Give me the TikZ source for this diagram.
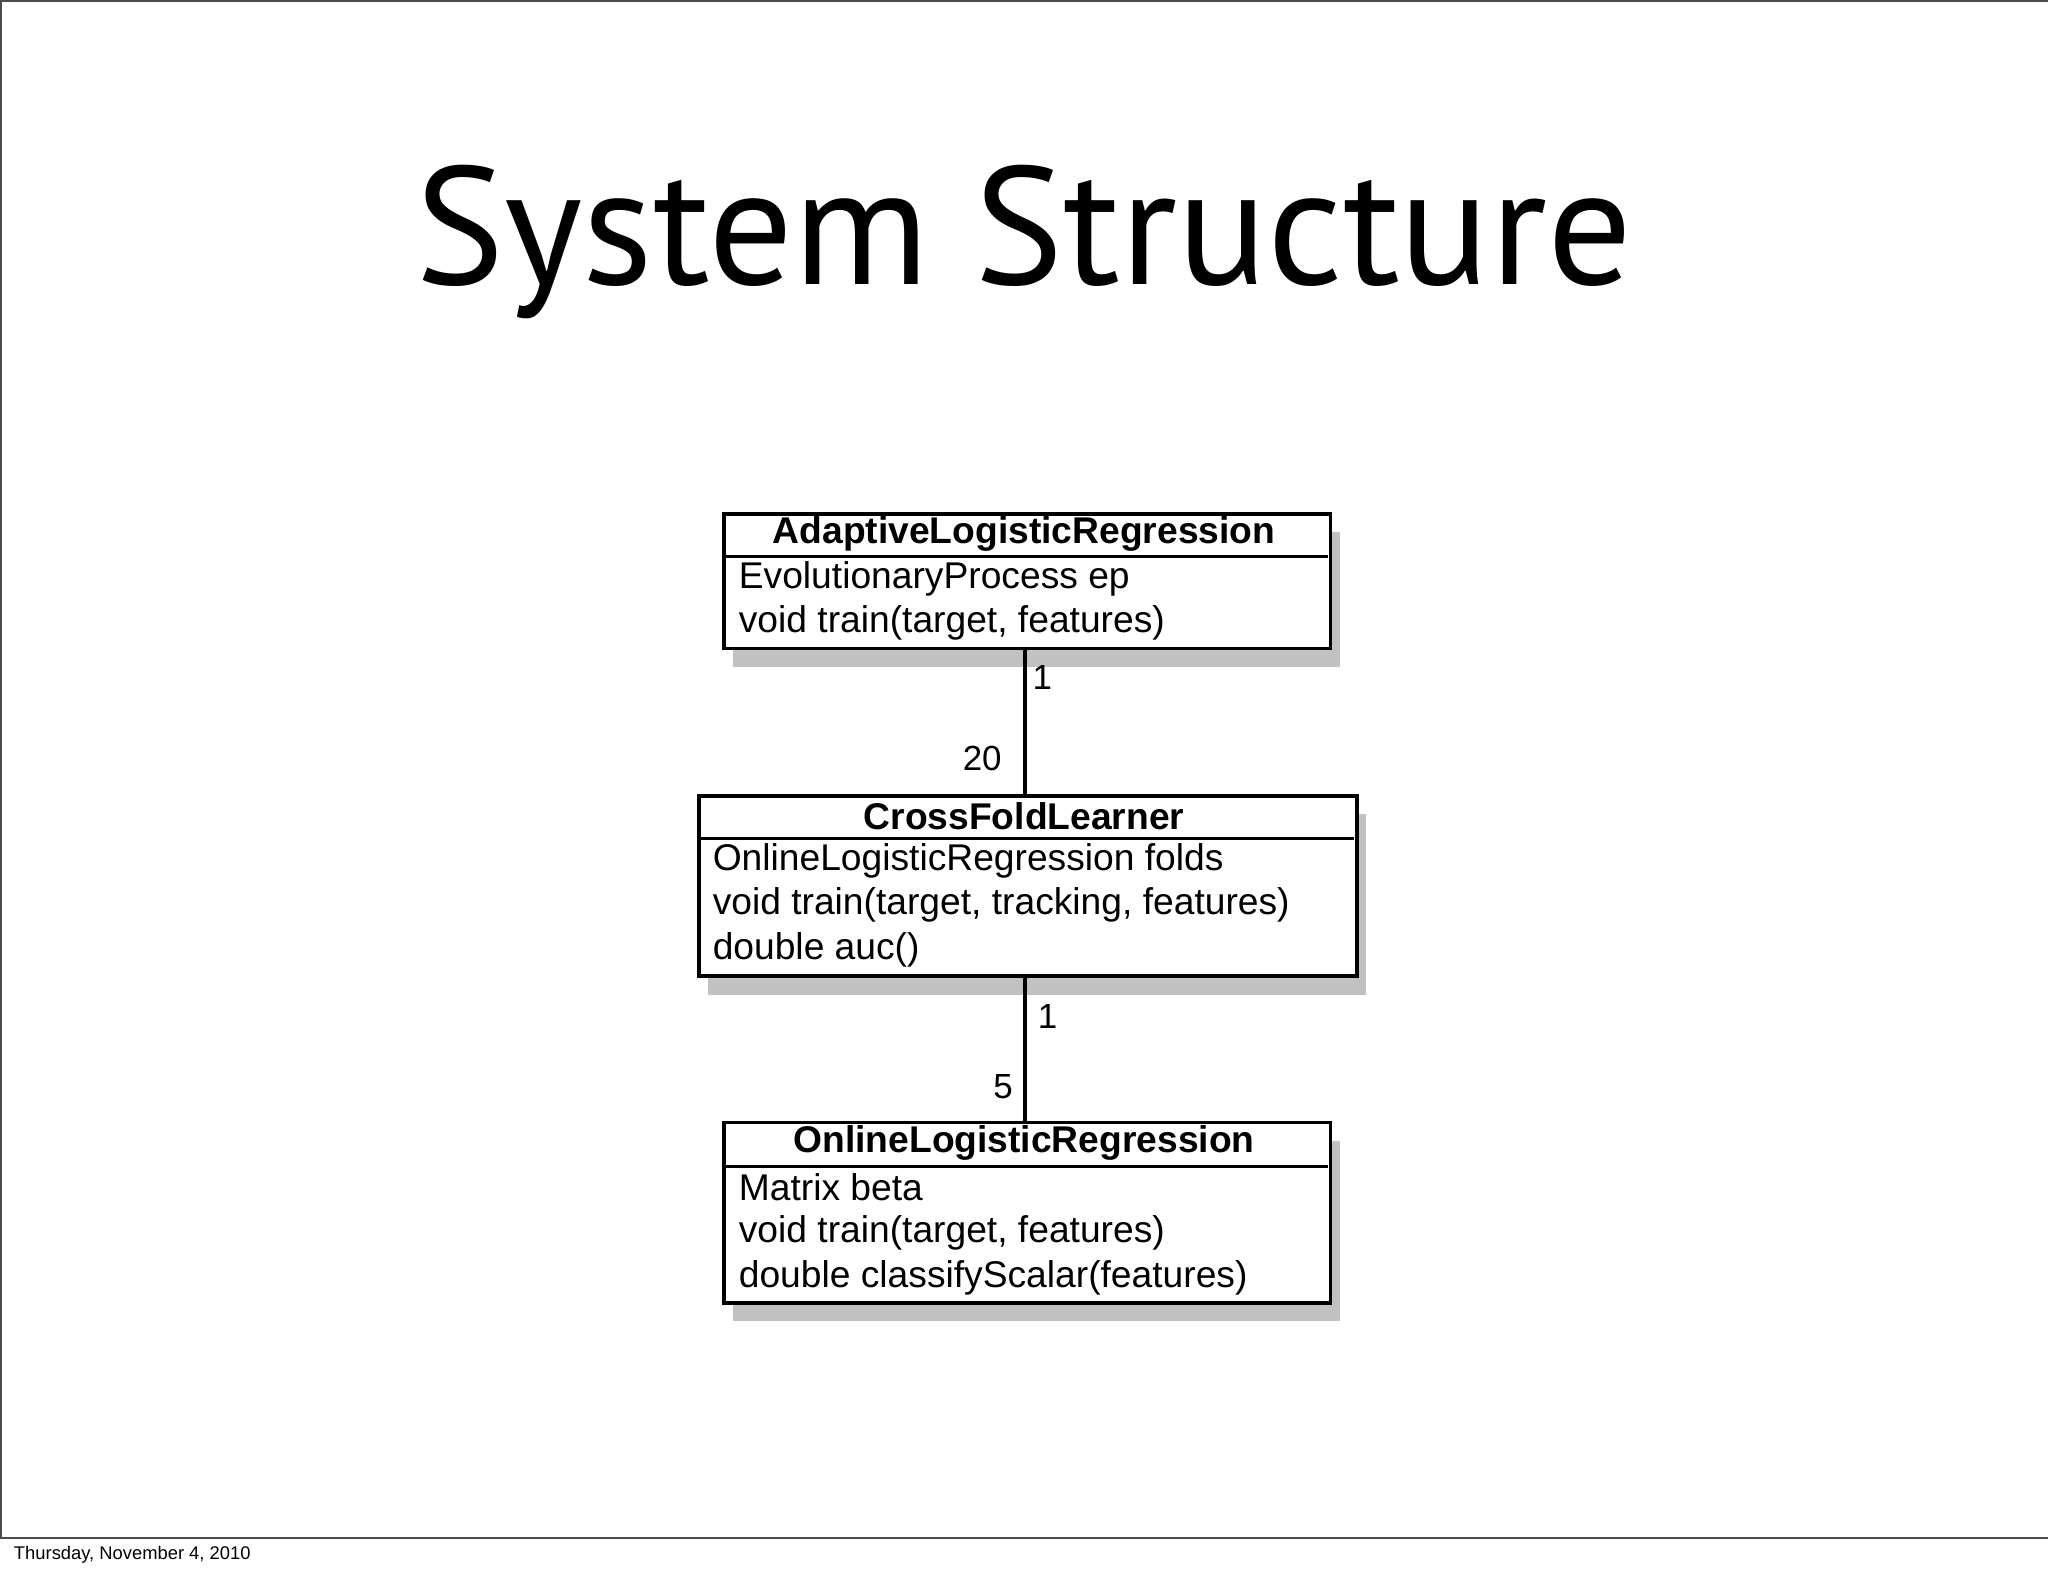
\documentclass[tikz,border=0pt]{standalone}
\usepackage{fontspec}
\setmainfont{Liberation Sans}
\newfontfamily\titlefont{PT Sans}
\usetikzlibrary{shadows,calc}
\begin{document}
\begin{tikzpicture}[x=0.01cm,y=-0.01cm,
  box/.style={draw=black,line width=0.8pt,fill=white,anchor=north west,inner sep=0,
    drop shadow={shadow xshift=2pt,shadow yshift=-4pt,opacity=0.35,fill=black!70}},
  hd/.style={font=\fontsize{8.1}{9.7}\selectfont\bfseries,inner sep=0},
  tx/.style={font=\fontsize{8.1}{9.7}\selectfont,inner sep=0,anchor=west},
  lab/.style={font=\fontsize{7.6}{9}\selectfont,inner sep=0},
  conn/.style={line width=0.8pt}]
\useasboundingbox (0,0) rectangle (1568,1206);
\node[draw=black!70,line width=0.4pt,anchor=north west,minimum width=15.67cm,minimum height=11.76cm,inner sep=0] (frame) at (0,0) {};
\node[anchor=west,inner sep=0,font=\fontsize{4}{5}\selectfont] (date) at (10,1190) {Thursday, November 4, 2010};
\node[inner sep=0,font=\titlefont\fontsize{36.5}{40}\selectfont] (title) at (784,185) {System Structure};
% box 1
\node[box,minimum width=4.64cm,minimum height=1.03cm] (b1) at (553,392) {};
\draw[line width=0.8pt] (553,426) -- (1017,426);
\node[hd] (b1h) at (784,409) {AdaptiveLogisticRegression};
\node[tx] (b1a) at (565,443) {EvolutionaryProcess ep};
\node[tx] (b1b) at (565,477) {void train(target, features)};
% box 2
\node[box,minimum width=5.03cm,minimum height=1.38cm] (b2) at (534,608) {};
\draw[line width=0.8pt] (534,642) -- (1037,642);
\node[hd] (b2h) at (784,625) {CrossFoldLearner};
\node[tx] (b2a) at (545,659) {OnlineLogisticRegression folds};
\node[tx] (b2b) at (545,693) {void train(target, tracking, features)};
\node[tx] (b2c) at (545,727) {double auc()};
% box 3
\node[box,minimum width=4.64cm,minimum height=1.38cm] (b3) at (553,858) {};
\draw[line width=0.8pt] (553,893) -- (1017,893);
\node[hd] (b3h) at (784,875) {OnlineLogisticRegression};
\node[tx] (b3a) at (565,909) {Matrix beta};
\node[tx] (b3b) at (565,944) {void train(target, features)};
\node[tx] (b3c) at (565,978) {double classifyScalar(features)};
% connectors
\draw[conn] (b1.south -| 785,0) -- (b2.north -| 785,0);
\draw[conn] (b2.south -| 785,0) -- (b3.north -| 785,0);
\node[lab] (l1) at (798,519) {1};
\node[lab] (l2) at (752,581) {20};
\node[lab] (l3) at (802,778) {1};
\node[lab] (l4) at (768,832) {5};
\end{tikzpicture}
\end{document}
